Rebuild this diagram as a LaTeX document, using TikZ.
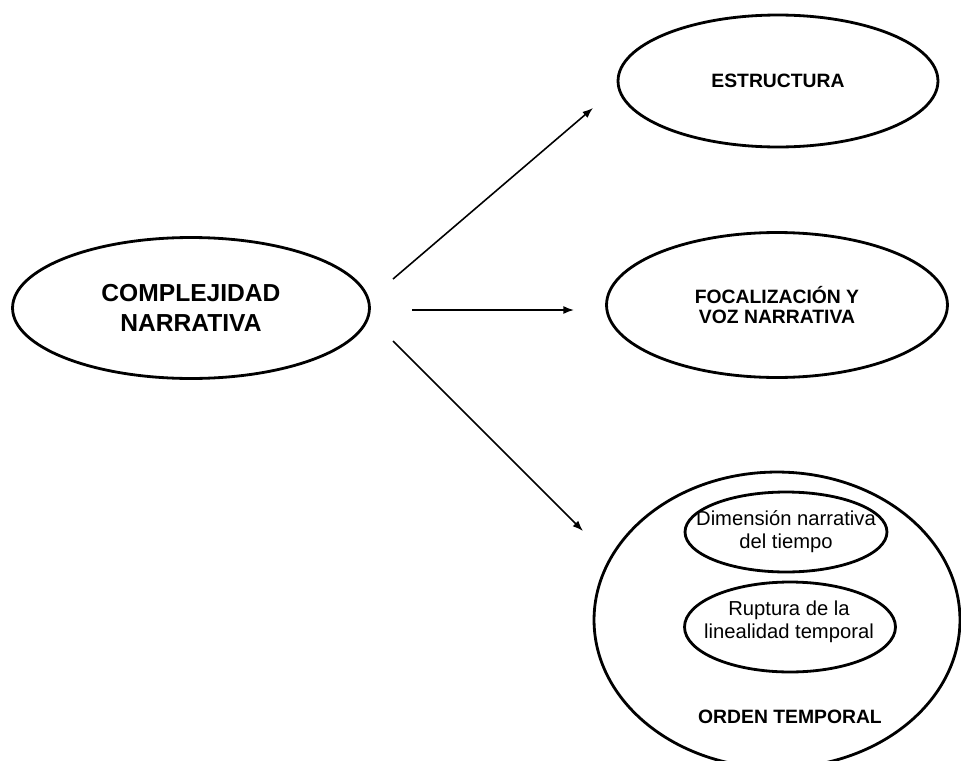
\documentclass[tikz,border=0pt]{standalone}
\usepackage{fontspec}
\setmainfont{Liberation Sans}
\usetikzlibrary{shapes.geometric,arrows.meta}

\begin{document}
\begin{tikzpicture}[x=0.02cm,y=-0.02cm]
  \tikzstyle{every node}+=[inner sep=0pt]
  \tikzstyle{elipse}=[draw, ellipse, line width=1.6pt]
  \tikzstyle{flecha}=[-{Latex[length=6pt,width=4.5pt]}, line width=0.9pt]
  \useasboundingbox (0,0) rectangle (961,761);
  \node [elipse, minimum width=7.14cm, minimum height=2.82cm, align=center,
    font=\fontsize{14}{17}\selectfont\bfseries] (cn) at (191,308) {COMPLEJIDAD\\NARRATIVA};
  \node [elipse, minimum width=6.4cm, minimum height=2.64cm,
    font=\fontsize{11}{13}\selectfont\bfseries] (es) at (778,81) {ESTRUCTURA};
  \node [elipse, minimum width=6.82cm, minimum height=2.9cm, align=center,
    font=\fontsize{11}{11.5}\selectfont\bfseries] (fv) at (777,305) {FOCALIZACIÓN Y\\VOZ NARRATIVA};
  \node [elipse, minimum width=7.32cm, minimum height=5.92cm] (ot) at (777,620) {};
  \node [font=\fontsize{11}{13}\selectfont\bfseries] (otl) at (790,717) {ORDEN TEMPORAL};
  \node [elipse, minimum width=4.04cm, minimum height=1.6cm] (d1) at (786,532) {};
  \node [align=center, font=\fontsize{11.5}{13}\selectfont] (d1l) at (d1) {Dimensión narrativa\\del tiempo};
  \node [elipse, minimum width=4.22cm, minimum height=1.8cm] (d2) at (790,627) {};
  \node [align=center, font=\fontsize{11.5}{13}\selectfont] (d2l) at (789,622) {Ruptura de la\\linealidad temporal};
  % flechas
  \coordinate (a1) at (393,279);
  \coordinate (b1) at (593,108);
  \coordinate (a2) at (412,310);
  \coordinate (b2) at (574,310);
  \coordinate (a3) at (393,341);
  \coordinate (b3) at (583,531);
  \draw [flecha] (a1) -- (b1);
  \draw [flecha] (a2) -- (b2);
  \draw [flecha] (a3) -- (b3);
\end{tikzpicture}
\end{document}
